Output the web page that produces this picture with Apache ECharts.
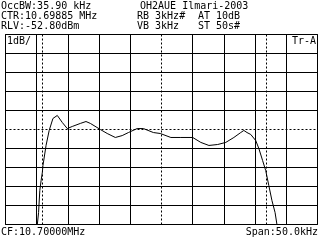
<!DOCTYPE html>
<html><head><meta charset="utf-8">
<script src="https://cdn.jsdelivr.net/npm/echarts@6/dist/echarts.min.js"></script>
<style>html,body{margin:0;padding:0;background:#fff;}#c{width:320px;height:240px;}</style>
</head><body><div id="c"></div>
<script>
// Frequency offset from CF (kHz) and level relative to reference (dB)
const freqKHz = [-19.9, -19.7, -19.5, -19.3, -19.1, -19.0, -18.5, -18.0, -17.4, -16.7, -15.9, -15.1, -14.3, -13.0, -12.1, -11.4, -9.8, -8.7, -7.4, -6.3, -5.3, -3.9, -2.9, -1.3, -0.2, 1.5, 3.1, 5.0, 6.3, 7.6, 9.0, 10.3, 11.6, 12.7, 13.2, 13.7, 14.3, 15.1, 15.6, 16.2, 16.7, 17.2, 17.7, 18.2, 18.5];
const levelDB = [-10, -9.37, -8.2, -7.7, -7.26, -6.9, -5.84, -5.05, -4.42, -4.26, -4.63, -4.95, -4.84, -4.68, -4.58, -4.68, -5.0, -5.21, -5.42, -5.32, -5.16, -4.95, -4.95, -5.16, -5.21, -5.42, -5.42, -5.42, -5.68, -5.84, -5.79, -5.68, -5.42, -5.16, -5.05, -5.16, -5.26, -5.58, -6.0, -6.63, -7.16, -7.95, -8.74, -9.37, -10];
const obwMarkers = [-19.07, 16.83];
const centerFreq = 0;
const refLineDB = -5;
const headerLeft = ["OccBW:35.90 kHz", "CTR:10.69885 MHz", "RLV:-52.80dBm"];
const headerMid = ["OH2AUE Ilmari-2003", "RB 3kHz#", "VB 3kHz"];
const headerRight = ["", "AT 10dB", "ST 50s#"];
const scaleLabel = "1dB/";
const traceLabel = "Tr-A";
const footerLeft = "CF:10.70000MHz";
const footerRight = "Span:50.0kHz";

const FONT = '10px "DejaVu Sans Mono"';
const splitColors = ['#000','#000','#000','#000','#000','rgba(0,0,0,0)','#000','#000','#000','#000','#000'];
const txt = (s, x, y, align) => ({type:'text', x:x, y:y, style:{text:s, font:FONT, fill:'#000', textAlign:align||'left', textVerticalAlign:'top'}, z:100});
const graphics = [];
headerLeft.forEach((s,i)=>graphics.push(txt(s,1,1+i*10)));
headerMid.forEach((s,i)=>graphics.push(txt(s,i===0?140:137,1+i*10)));
headerRight.forEach((s,i)=>{ if(s) graphics.push(txt(s,198,1+i*10)); });
graphics.push(txt(scaleLabel,7,36));
graphics.push(txt(traceLabel,292,36));
graphics.push(txt(footerLeft,1,227));
graphics.push(txt(footerRight,318,227,'right'));

const chart = echarts.init(document.getElementById('c'), null, {renderer:'canvas'});
const markData = [{xAxis:centerFreq},{yAxis:refLineDB}].concat(obwMarkers.map(v=>({xAxis:v})));
chart.setOption({
  animation:false,
  backgroundColor:'#fff',
  grid:{left:5.5,right:2.5,top:34.5,bottom:15.5,show:true,borderColor:'#000',borderWidth:1,backgroundColor:'transparent'},
  xAxis:{type:'value',min:-25,max:25,interval:5,axisLine:{show:false},axisTick:{show:false},axisLabel:{show:false},
    splitLine:{show:true,lineStyle:{color:splitColors,width:1}}},
  yAxis:{type:'value',min:-10,max:0,interval:1,axisLine:{show:false},axisTick:{show:false},axisLabel:{show:false},
    splitLine:{show:true,lineStyle:{color:splitColors,width:1}}},
  series:[{
    type:'line', data:freqKHz.map((f,i)=>[f,levelDB[i]]), symbol:'none', clip:true,
    lineStyle:{color:'#000',width:1}, z:10,
    markLine:{silent:true,symbol:'none',label:{show:false},animation:false,
      lineStyle:{color:'#000',width:1,type:[2,2]},data:markData}
  }],
  graphic:graphics
});
</script></body></html>
